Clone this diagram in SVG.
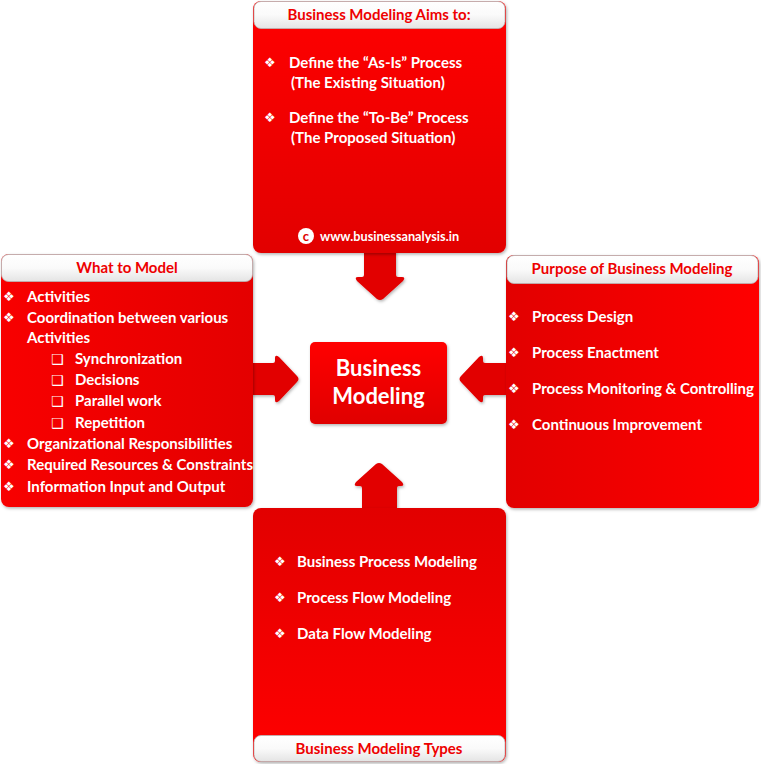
<svg xmlns="http://www.w3.org/2000/svg" width="761" height="764" viewBox="0 0 761 764">
<defs>
<linearGradient id="gTop" x1="0" y1="0" x2="0" y2="1"><stop offset="0" stop-color="#ff0000"/><stop offset="1" stop-color="#e20000"/></linearGradient>
<linearGradient id="gBot" x1="0" y1="1" x2="0" y2="0"><stop offset="0" stop-color="#ff0000"/><stop offset="1" stop-color="#e20000"/></linearGradient>
<linearGradient id="gLeft" x1="0" y1="0" x2="1" y2="0"><stop offset="0" stop-color="#f80000"/><stop offset="1" stop-color="#e40000"/></linearGradient>
<linearGradient id="gRight" x1="1" y1="0" x2="0" y2="0"><stop offset="0" stop-color="#ff0000"/><stop offset="1" stop-color="#e20000"/></linearGradient>
<linearGradient id="gCenter" x1="0" y1="0" x2="0" y2="1"><stop offset="0" stop-color="#ff0000"/><stop offset="1" stop-color="#e00000"/></linearGradient>
<linearGradient id="gHead" x1="0" y1="0" x2="0" y2="1"><stop offset="0" stop-color="#ffffff"/><stop offset="0.5" stop-color="#fafafa"/><stop offset="1" stop-color="#e4e4e4"/></linearGradient>
<filter id="sh" x="-10%" y="-10%" width="120%" height="120%"><feDropShadow dx="1" dy="1.5" stdDeviation="1.5" flood-color="#000" flood-opacity="0.3"/></filter>
</defs>
<style>
.t{font-family:Lato,"Open Sans","Liberation Sans",sans-serif;font-weight:bold;fill:#fff;font-size:15px}
.h{font-family:Lato,"Open Sans","Liberation Sans",sans-serif;font-weight:bold;fill:#ee0000;font-size:15px;text-anchor:middle}
.b{font-family:"DejaVu Sans",sans-serif;fill:#fff;font-size:13px}
.s{font-family:"DejaVu Sans",sans-serif;fill:#fff;font-size:14px}
.hd{fill:url(#gHead);stroke:#b8b8b8;stroke-width:0.8}
.ar{fill:#e20000;filter:url(#sh)}
</style>
<rect width="761" height="764" fill="#fff"/>
<g id="connectors">
<path class="ar" d="M364,250 H396 V275 Q396,277 398,277 H402 Q406,277 403,281 L383,299 Q380,301 377,299 L357,281 Q354,277 358,277 H362 Q364,277 364,275 Z"/>
<path class="ar" d="M362,508 V488 Q362,486 360,486 H357 Q353,486 356,482 L376,464 Q379,462 382,464 L402,482 Q405,486 401,486 H399 Q397,486 397,488 V508 Z"/>
<path class="ar" d="M250,363 H273 Q275,363 275,361 V358 Q275,354 279,357 L297,376 Q300,379 297,382 L279,401 Q275,404 275,400 V397 Q275,395 273,395 H250 Z"/>
<path class="ar" d="M508,363 H485 Q483,363 483,361 V358 Q483,354 479,357 L461,376 Q458,379 461,382 L479,401 Q483,404 483,400 V397 Q483,395 485,395 H508 Z"/>
</g>
<g id="top">
<rect x="253" y="1" width="253" height="252" rx="8" fill="url(#gTop)" filter="url(#sh)"/>
<rect class="hd" x="254" y="1.5" width="251" height="27" rx="7"/>
<text class="h" x="379" y="20">Business Modeling Aims to:</text>
<text class="b" x="264" y="67">❖</text>
<text class="t" x="289" y="68">Define the “As-Is” Process</text>
<text class="t" x="291" y="88">(The Existing Situation)</text>
<text class="b" x="264" y="122">❖</text>
<text class="t" x="289" y="123">Define the “To-Be” Process</text>
<text class="t" x="291" y="143">(The Proposed Situation)</text>
<circle cx="306" cy="236" r="8" fill="#fff"/>
<text x="306" y="240.5" text-anchor="middle" style="font-family:Lato,'Liberation Sans',sans-serif;font-weight:bold;font-size:13px;fill:#e00000">c</text>
<text class="t" x="320" y="241" style="font-size:12.7px">www.businessanalysis.in</text>
</g>
<g id="left">
<rect x="1" y="254" width="252" height="253" rx="8" fill="url(#gLeft)" filter="url(#sh)"/>
<rect class="hd" x="1.5" y="254.5" width="251" height="27" rx="7"/>
<text class="h" x="127" y="273">What to Model</text>
<text class="b" x="3" y="301">❖</text>
<text class="t" x="27" y="302">Activities</text>
<text class="b" x="3" y="322">❖</text>
<text class="t" x="27" y="323">Coordination between various</text>
<text class="t" x="27" y="343">Activities</text>
<text class="s" x="51" y="364">❑</text>
<text class="t" x="75" y="364">Synchronization</text>
<text class="s" x="51" y="385">❑</text>
<text class="t" x="75" y="385">Decisions</text>
<text class="s" x="51" y="406">❑</text>
<text class="t" x="75" y="406">Parallel work</text>
<text class="s" x="51" y="428">❑</text>
<text class="t" x="75" y="428">Repetition</text>
<text class="b" x="3" y="448">❖</text>
<text class="t" x="27" y="449">Organizational Responsibilities</text>
<text class="b" x="3" y="469">❖</text>
<text class="t" x="27" y="470">Required Resources &amp; Constraints</text>
<text class="b" x="3" y="491">❖</text>
<text class="t" x="27" y="492">Information Input and Output</text>
</g>
<g id="right">
<rect x="506" y="255" width="253" height="253" rx="8" fill="url(#gRight)" filter="url(#sh)"/>
<rect class="hd" x="507" y="255.5" width="251" height="28" rx="7"/>
<text class="h" x="632" y="274">Purpose of Business Modeling</text>
<text class="b" x="508" y="321">❖</text>
<text class="t" x="532" y="322">Process Design</text>
<text class="b" x="508" y="357">❖</text>
<text class="t" x="532" y="358">Process Enactment</text>
<text class="b" x="508" y="393">❖</text>
<text class="t" x="532" y="394">Process Monitoring &amp; Controlling</text>
<text class="b" x="508" y="429">❖</text>
<text class="t" x="532" y="430">Continuous Improvement</text>
</g>
<g id="bottom">
<rect x="253" y="508" width="253" height="254" rx="8" fill="url(#gBot)" filter="url(#sh)"/>
<rect class="hd" x="254" y="735.5" width="251" height="26" rx="7"/>
<text class="h" x="379" y="754">Business Modeling Types</text>
<text class="b" x="274" y="566">❖</text>
<text class="t" x="297" y="567">Business Process Modeling</text>
<text class="b" x="274" y="602">❖</text>
<text class="t" x="297" y="603">Process Flow Modeling</text>
<text class="b" x="274" y="638">❖</text>
<text class="t" x="297" y="639">Data Flow Modeling</text>
</g>
<g id="center">
<rect x="310" y="342" width="137" height="82" rx="5" fill="url(#gCenter)" filter="url(#sh)"/>
<text class="t" x="378.5" y="376" text-anchor="middle" style="font-size:22px">Business</text>
<text class="t" x="378.5" y="404" text-anchor="middle" style="font-size:22px">Modeling</text>
</g>
</svg>
